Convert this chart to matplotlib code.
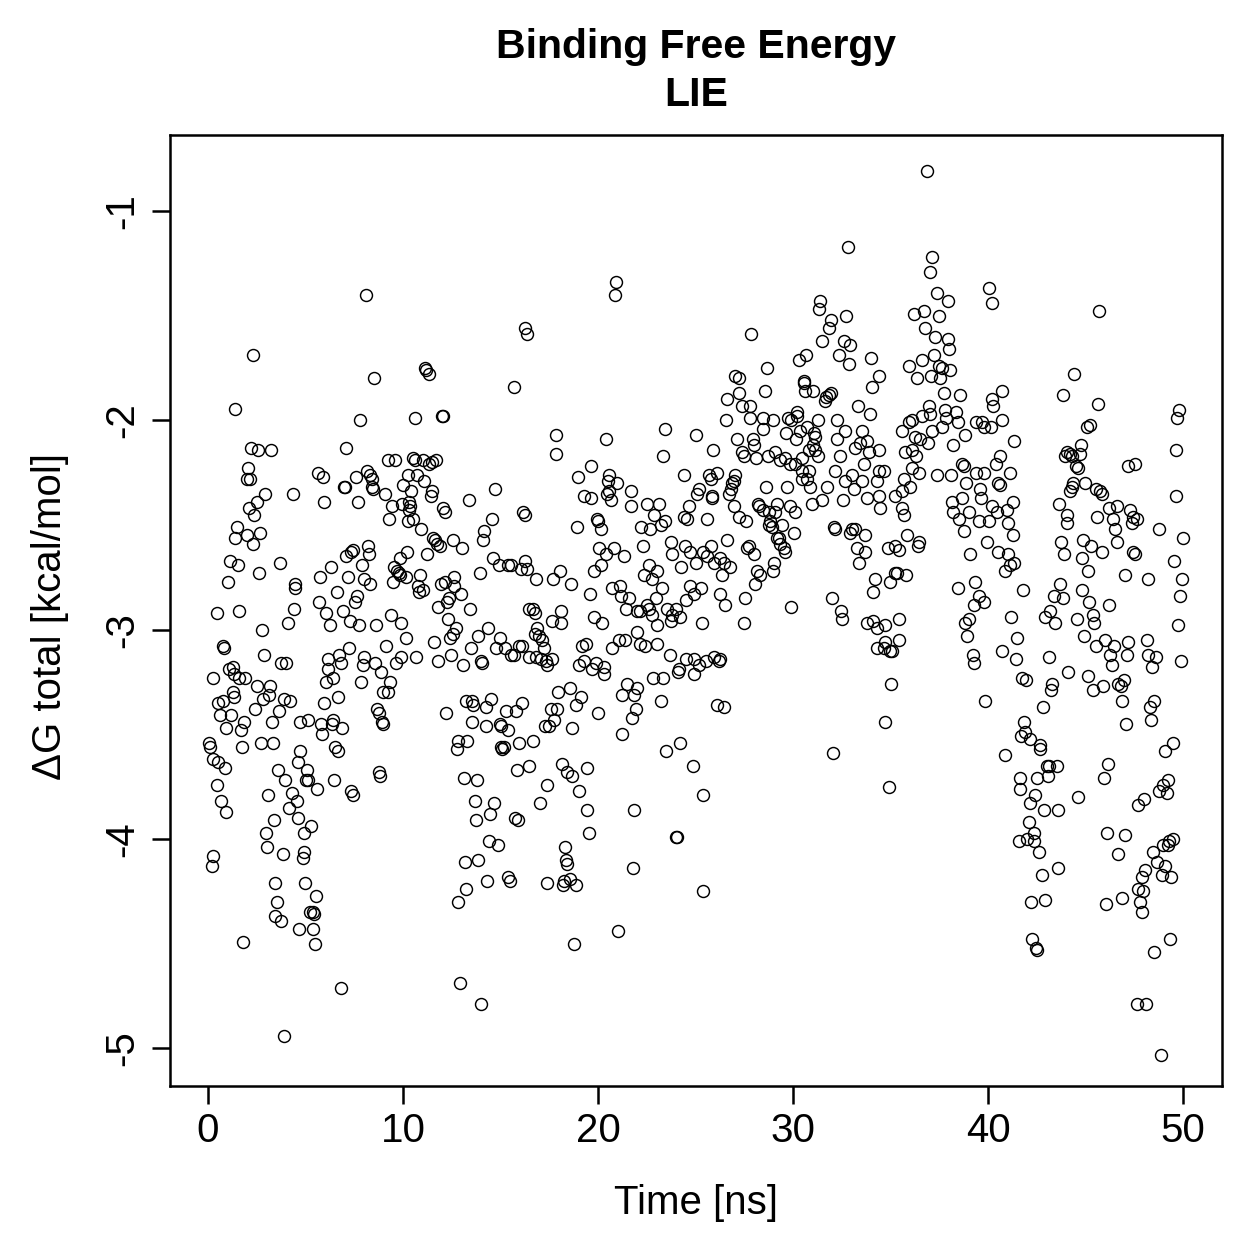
import matplotlib
matplotlib.use('Agg')
import matplotlib.pyplot as plt
import numpy as np

# (time [ns], dG total [kcal/mol]), grouped by time range
early = [
    (8.08,-1.40),(2.29,-1.69),(16.26,-1.56),(16.34,-1.59),(11.12,-1.75),(11.18,-1.76),(11.31,-1.78),
    (8.52,-1.80),(15.68,-1.84),(1.38,-1.945),(7.77,-2.00),(10.62,-1.99),(11.99,-1.98),(12.07,-1.98),
    (2.20,-2.13),(2.58,-2.14),(3.23,-2.14),(7.09,-2.13),(2.03,-2.23),(2.00,-2.28),(2.15,-2.28),
    (5.62,-2.25),(5.89,-2.27),(9.21,-2.19),(9.60,-2.19),(10.52,-2.18),(10.59,-2.19),(11.03,-2.19),
    (11.31,-2.21),(11.51,-2.20),(11.68,-2.19),(7.57,-2.27),(8.16,-2.24),(8.30,-2.26),(8.39,-2.28),
    (10.26,-2.26),(10.74,-2.26),(11.08,-2.29),(6.98,-2.32),(7.02,-2.32),(8.42,-2.32),(8.47,-2.33),
    (9.08,-2.35),(10.00,-2.31),(10.43,-2.34),(11.51,-2.34),(11.41,-2.36),(14.72,-2.33),(2.94,-2.35),
    (4.34,-2.35),(5.96,-2.39),(7.67,-2.39),(13.36,-2.38),(2.51,-2.39),(2.08,-2.42),(2.37,-2.45),
    (9.41,-2.41),(9.29,-2.47),(9.94,-2.40),(10.33,-2.39),(10.37,-2.41),(10.32,-2.43),(12.04,-2.42),
    (12.16,-2.44),(16.14,-2.44),(16.26,-2.45),(10.23,-2.48),(10.49,-2.47),(14.55,-2.47),(1.49,-2.51),
    (1.40,-2.56),(2.00,-2.55),(2.32,-2.59),(2.68,-2.54),(10.91,-2.52),(11.53,-2.56),(11.63,-2.57),
    (11.72,-2.59),(11.89,-2.60),(12.54,-2.57),(13.03,-2.61),(14.15,-2.53),(14.12,-2.57),(1.11,-2.67),
    (1.55,-2.69),(1.04,-2.77),(2.63,-2.73),(3.67,-2.68),(4.46,-2.78),(4.47,-2.80),(6.30,-2.70),
    (5.74,-2.75),(7.19,-2.75),(6.61,-2.82),(7.10,-2.65),(7.33,-2.63),(7.44,-2.62),(7.89,-2.69),
    (8.18,-2.60),(8.28,-2.64),(8.01,-2.76),(8.32,-2.78),(7.63,-2.84),(7.53,-2.87),(10.18,-2.63),
    (9.85,-2.66),(9.55,-2.70),(9.68,-2.72),(9.77,-2.73),(9.82,-2.74),(10.14,-2.75),(9.51,-2.77),
    (11.22,-2.64),(10.88,-2.74),(10.77,-2.79),(10.83,-2.82),(11.00,-2.81),(11.94,-2.78),(12.14,-2.77),
    (12.59,-2.75),(12.64,-2.79),(12.98,-2.83),(12.36,-2.85),(12.28,-2.87),(13.93,-2.73),(14.64,-2.66),
    (14.92,-2.69),(15.40,-2.69),(15.52,-2.69),(16.03,-2.71),(16.26,-2.67),(16.34,-2.71),(0.48,-2.92),
    (1.57,-2.91),(4.39,-2.90),(5.69,-2.87),(6.05,-2.92),(6.93,-2.91),(9.38,-2.93),(9.89,-2.97),
    (11.80,-2.89),(12.31,-2.95),(13.42,-2.90),(16.46,-2.90),(2.77,-3.00),(4.08,-2.97),(6.23,-2.98),
    (7.27,-2.96),(7.75,-2.98),(8.62,-2.98),(12.70,-2.99),(14.36,-2.99),
    (10.14,-3.04),(12.54,-3.02),(12.41,-3.04),(13.87,-3.03),(14.97,-3.04),(15.95,-3.08),(16.12,-3.08),
    (0.75,-3.08),(0.80,-3.09),(2.85,-3.12),(3.74,-3.16),(4.00,-3.16),(6.16,-3.14),(6.13,-3.19),
    (6.05,-3.25),(6.39,-3.23),(6.73,-3.12),(6.81,-3.16),(7.24,-3.09),(7.98,-3.13),(7.93,-3.17),
    (7.84,-3.25),(8.56,-3.16),(8.86,-3.20),(9.12,-3.08),(9.32,-3.25),(8.95,-3.30),(9.21,-3.30),
    (9.63,-3.16),(9.89,-3.13),(10.66,-3.13),(11.60,-3.06),(11.77,-3.15),(12.45,-3.12),(13.08,-3.17),
    (13.47,-3.09),(14.01,-3.15),(14.06,-3.16),(14.75,-3.09),(15.23,-3.09),(15.52,-3.12),(15.69,-3.12),
    (16.46,-3.13),(0.24,-3.23),(1.09,-3.19),(1.26,-3.18),(1.35,-3.21),(1.60,-3.23),(1.90,-3.23),
    (2.51,-3.27),(3.18,-3.27),(3.14,-3.31),(2.80,-3.33),(2.41,-3.38),(0.50,-3.35),(0.75,-3.34),
    (1.26,-3.30),(1.35,-3.32),(0.63,-3.41),(1.18,-3.41),(0.92,-3.47),(1.83,-3.44),(1.69,-3.48),
    (1.72,-3.56),(0.03,-3.54),(0.12,-3.56),(0.27,-3.62),(0.50,-3.63),(0.89,-3.66),(0.44,-3.74),
    (0.67,-3.82),(0.92,-3.87),(0.24,-4.08),(0.19,-4.13),(1.78,-4.49),(3.91,-3.33),(4.20,-3.34),
    (3.62,-3.39),(3.28,-3.44),(2.72,-3.54),(3.31,-3.54),(4.73,-3.44),(5.11,-3.43),(5.79,-3.45),
    (5.82,-3.50),(6.42,-3.43),(6.35,-3.45),(6.86,-3.47),(5.93,-3.35),(6.64,-3.32),(6.52,-3.56),
    (6.69,-3.58),(8.69,-3.38),(8.77,-3.40),(8.91,-3.44),(8.98,-3.45),(4.73,-3.58),(4.63,-3.63),
    (5.07,-3.67),(5.11,-3.72),(5.02,-3.72),(5.57,-3.76),(3.57,-3.67),(3.94,-3.72),(3.06,-3.79),
    (4.29,-3.78),(4.54,-3.82),(4.17,-3.85),(4.60,-3.90),(3.37,-3.91),(2.99,-3.97),(6.47,-3.72),
    (7.33,-3.77),(7.46,-3.79),(8.78,-3.68),(8.83,-3.70),(5.28,-3.94),(4.90,-3.97),(3.02,-4.04),
    (3.83,-4.07),(4.93,-4.06),(4.85,-4.09),(3.43,-4.21),(3.53,-4.30),(3.45,-4.37),(3.74,-4.39),
    (4.97,-4.21),(5.53,-4.27),(5.24,-4.35),(5.36,-4.35),(5.41,-4.36),(4.68,-4.43),(5.40,-4.43),
    (5.48,-4.50),(3.88,-4.94),(6.81,-4.71),(12.21,-3.40),(13.22,-3.34),(13.52,-3.34),(13.61,-3.36),
    (14.24,-3.37),(14.50,-3.33),(16.12,-3.35),(15.78,-3.39),(15.27,-3.39),(13.52,-3.44),(14.27,-3.46),
    (14.96,-3.45),(15.01,-3.46),(15.40,-3.48),(12.82,-3.53),(12.76,-3.57),(13.30,-3.53),(15.01,-3.56),
    (15.10,-3.57),(15.18,-3.56),(15.95,-3.54),(15.87,-3.67),(16.45,-3.65),(13.13,-3.71),(13.78,-3.72),
    (13.68,-3.82),(14.67,-3.83),(14.46,-3.88),(13.73,-3.91),(15.75,-3.90),(15.91,-3.91),(14.41,-4.01),
    (14.89,-4.03),(13.17,-4.11),(13.82,-4.10),(15.40,-4.18),(15.47,-4.20),(14.33,-4.20),(13.22,-4.24),
    (12.82,-4.30),(12.91,-4.69),(13.99,-4.79),
]

middle = [
    (32.80,-1.17),(20.90,-1.34),(20.87,-1.40),(31.40,-1.43),(31.35,-1.47),(31.95,-1.52),(32.74,-1.50),
    (31.83,-1.56),(31.49,-1.62),(32.60,-1.62),(32.94,-1.64),(32.38,-1.69),(32.85,-1.73),(33.99,-1.70),
    (30.29,-1.71),(30.67,-1.69),(27.85,-1.59),(28.67,-1.75),(27.05,-1.79),(27.22,-1.80),(28.55,-1.86),
    (26.62,-1.90),(27.22,-1.87),(27.36,-1.93),(27.78,-1.93),(30.55,-1.81),(30.58,-1.82),(30.63,-1.86),
    (31.01,-1.86),(31.71,-1.89),(31.63,-1.91),(31.95,-1.87),(31.83,-1.88),(33.31,-1.93),(34.05,-1.84),
    (34.39,-1.79),(33.93,-1.97),(26.56,-2.00),(27.78,-1.99),(28.47,-1.99),(28.45,-2.04),(28.98,-2.00),
    (29.75,-1.99),(30.21,-1.96),(30.21,-1.98),(29.90,-2.00),(29.64,-2.06),(30.17,-2.09),(30.38,-2.05),
    (30.72,-2.03),(31.09,-2.06),(31.15,-2.08),(31.29,-2.00),(32.26,-2.00),(32.68,-2.05),(33.54,-2.05),
    (33.20,-2.13),(33.42,-2.11),(33.80,-2.10),(33.88,-2.15),(34.39,-2.14),(27.13,-2.09),(27.94,-2.09),
    (27.99,-2.12),(27.39,-2.15),(27.48,-2.17),(28.12,-2.18),(28.70,-2.17),(25.05,-2.07),(25.91,-2.14),
    (23.41,-2.04),(23.35,-2.17),(17.83,-2.07),(17.83,-2.16),(20.43,-2.09),(29.08,-2.15),(29.35,-2.19),
    (29.61,-2.18),(29.87,-2.21),(30.09,-2.21),(30.46,-2.18),(30.80,-2.14),(31.02,-2.12),(31.15,-2.14),
    (31.29,-2.17),(32.39,-2.17),(32.26,-2.09),(33.62,-2.21),(34.39,-2.24),(30.46,-2.24),(30.80,-2.24),
    (30.72,-2.28),(30.46,-2.28),(30.89,-2.32),(31.75,-2.32),(32.17,-2.24),(32.68,-2.29),(33.03,-2.26),
    (33.54,-2.29),(33.11,-2.33),(32.57,-2.38),(33.80,-2.37),(34.30,-2.29),(34.39,-2.36),(31.49,-2.38),
    (30.98,-2.40),(29.70,-2.32),(28.59,-2.32),(28.19,-2.40),(28.28,-2.41),(28.45,-2.43),(28.76,-2.44),
    (29.10,-2.44),(29.18,-2.40),(29.87,-2.41),(30.09,-2.44),(28.84,-2.48),(28.76,-2.50),(28.93,-2.51),
    (29.44,-2.50),(29.18,-2.56),(29.27,-2.56),(29.35,-2.59),(29.52,-2.61),(29.61,-2.63),(30.04,-2.54),
    (29.01,-2.68),(28.96,-2.72),(28.33,-2.74),(28.07,-2.78),(28.16,-2.72),(32.09,-2.51),(32.17,-2.52),
    (32.94,-2.54),(33.03,-2.52),(33.20,-2.52),(33.67,-2.55),(33.28,-2.61),(33.71,-2.63),(33.37,-2.68),
    (34.20,-2.76),(34.11,-2.82),(32.00,-2.85),(32.45,-2.91),(32.50,-2.95),(33.80,-2.97),(34.11,-2.96),
    (29.90,-2.89),(27.51,-2.97),(27.56,-2.85),(25.34,-2.97),(18.97,-2.27),(19.62,-2.22),(19.28,-2.36),
    (19.62,-2.37),(20.56,-2.26),(20.51,-2.29),(20.99,-2.30),(20.56,-2.34),(20.44,-2.35),(20.65,-2.38),
    (21.67,-2.34),(21.67,-2.41),(19.93,-2.47),(20.00,-2.48),(20.17,-2.52),(18.90,-2.51),(22.53,-2.40),
    (23.12,-2.40),(22.87,-2.45),(22.69,-2.52),(23.21,-2.50),(23.46,-2.48),(22.22,-2.51),(24.40,-2.26),
    (25.68,-2.26),(25.77,-2.28),(26.11,-2.25),(25.19,-2.33),(25.10,-2.35),(25.82,-2.36),(25.86,-2.37),
    (27.05,-2.26),(26.97,-2.29),(26.88,-2.30),(26.80,-2.33),(26.71,-2.35),(24.66,-2.41),(24.40,-2.46),
    (24.57,-2.47),(25.59,-2.47),(26.97,-2.41),(27.22,-2.46),(27.61,-2.48),(26.62,-2.57),(27.73,-2.60),
    (27.99,-2.64),(27.65,-2.61),(23.72,-2.58),(23.80,-2.64),(24.45,-2.60),(24.74,-2.63),(25.00,-2.68),
    (24.28,-2.70),(25.39,-2.63),(25.77,-2.60),(25.59,-2.65),(25.94,-2.68),(26.28,-2.66),(26.45,-2.68),
    (26.76,-2.70),(26.37,-2.74),(22.32,-2.60),(22.61,-2.69),(23.04,-2.72),(22.35,-2.74),(22.78,-2.76),
    (23.29,-2.80),(22.95,-2.85),(22.53,-2.88),(22.14,-2.91),(22.78,-2.93),(23.04,-2.98),(20.82,-2.61),
    (21.33,-2.65),(20.39,-2.64),(20.05,-2.61),(20.13,-2.69),(19.79,-2.72),(18.05,-2.72),(17.71,-2.76),
    (18.63,-2.78),(16.80,-2.76),(19.58,-2.83),(20.73,-2.80),(21.12,-2.79),(21.16,-2.84),(21.58,-2.85),
    (21.41,-2.90),(22.01,-2.91),(22.61,-2.90),(23.55,-2.90),(23.80,-2.93),(23.98,-2.90),(23.72,-2.96),
    (24.23,-2.94),(24.52,-2.86),(24.74,-2.79),(24.91,-2.83),(25.26,-2.80),(26.24,-2.83),(26.50,-2.88),
    (16.67,-2.90),(16.75,-2.92),(18.11,-2.91),(17.66,-2.96),(18.08,-2.97),(19.79,-2.94),(20.22,-2.97),
    (16.89,-2.99),
    (16.75,-3.02),(16.97,-3.03),(17.15,-3.05),(17.23,-3.09),(16.80,-3.13),(17.06,-3.14),(17.32,-3.15),
    (17.40,-3.17),(17.66,-3.14),(19.19,-3.08),(19.37,-3.07),(20.73,-3.09),(21.07,-3.05),(21.36,-3.05),
    (22.01,-3.01),(22.14,-3.07),(22.39,-3.08),(23.00,-3.07),(23.67,-3.12),(24.52,-3.14),(24.91,-3.14),
    (25.17,-3.17),(24.91,-3.21),(25.56,-3.15),(25.94,-3.13),(26.20,-3.15),(26.28,-3.14),(24.15,-3.19),
    (24.09,-3.20),(22.83,-3.23),(23.35,-3.23),(19.02,-3.17),(19.28,-3.15),(19.71,-3.19),(19.88,-3.16),
    (20.31,-3.18),(20.31,-3.21),(18.56,-3.28),(17.95,-3.30),(19.11,-3.32),(18.85,-3.36),(17.57,-3.38),
    (17.92,-3.38),(17.74,-3.43),(17.26,-3.46),(17.49,-3.46),(18.65,-3.47),(20.00,-3.40),(21.24,-3.31),
    (21.50,-3.26),(21.84,-3.31),(22.01,-3.28),(21.93,-3.38),(21.72,-3.42),(21.21,-3.50),(23.21,-3.34),
    (26.11,-3.36),(26.45,-3.37),(16.68,-3.53),(18.17,-3.64),(18.43,-3.68),(18.68,-3.70),(19.42,-3.66),
    (17.37,-3.74),(17.03,-3.83),(19.02,-3.77),(19.45,-3.86),(19.54,-3.97),(23.51,-3.58),(24.23,-3.54),
    (24.86,-3.65),(25.39,-3.79),(21.87,-3.86),(23.98,-3.99),(24.06,-3.99),(18.31,-4.04),(18.38,-4.10),
    (18.43,-4.12),(18.26,-4.20),(18.56,-4.19),(18.85,-4.22),(17.40,-4.21),(18.20,-4.22),(21.79,-4.14),
    (25.36,-4.25),(21.02,-4.44),(18.77,-4.50),(32.05,-3.59),
]

late = [
    (36.87,-0.81),(37.12,-1.22),(37.00,-1.29),(37.38,-1.39),(37.94,-1.43),(40.06,-1.37),(40.22,-1.44),
    (45.70,-1.48),(36.18,-1.49),(36.70,-1.48),(37.47,-1.50),(36.78,-1.56),(37.30,-1.60),(37.93,-1.61),
    (38.01,-1.66),(36.63,-1.71),(37.24,-1.69),(35.96,-1.74),(36.36,-1.80),(37.09,-1.79),(37.55,-1.80),
    (37.64,-1.75),(38.06,-1.76),(37.51,-1.74),(37.76,-1.87),(38.54,-1.88),(36.95,-1.93),(37.81,-1.95),
    (38.37,-1.96),(37.04,-1.97),(37.86,-1.99),(38.44,-2.01),(37.64,-2.03),(37.12,-2.05),(36.60,-1.98),
    (36.10,-2.00),(35.93,-2.01),(35.59,-2.05),(36.53,-2.09),(36.27,-2.08),(36.90,-2.11),(35.76,-2.15),
    (36.10,-2.14),(36.30,-2.17),(36.10,-2.23),(35.67,-2.28),(36.01,-2.32),(36.44,-2.25),(34.65,-2.24),
    (34.48,-2.42),(35.24,-2.36),(35.59,-2.34),(35.59,-2.42),(35.67,-2.45),(37.38,-2.26),(38.11,-2.26),
    (38.23,-2.12),(38.83,-2.07),(38.66,-2.21),(38.75,-2.22),(39.37,-2.01),(39.71,-2.01),(39.80,-2.03),
    (40.14,-2.03),(40.28,-1.93),(40.20,-1.90),(40.71,-1.86),(40.74,-2.00),(41.35,-2.10),(40.62,-2.17),
    (40.42,-2.21),(41.14,-2.25),(40.49,-2.30),(40.62,-2.31),(39.60,-2.33),(39.64,-2.37),(40.19,-2.41),
    (40.45,-2.44),(40.97,-2.43),(41.28,-2.39),(41.00,-2.49),(41.28,-2.55),(39.94,-2.58),(40.50,-2.63),
    (41.05,-2.64),(41.34,-2.68),(41.14,-2.69),(40.88,-2.72),(38.88,-2.30),(39.40,-2.25),(39.81,-2.25),
    (38.66,-2.37),(38.15,-2.39),(38.20,-2.44),(38.49,-2.47),(39.00,-2.44),(39.52,-2.48),(40.03,-2.48),
    (38.75,-2.53),(39.09,-2.64),(38.44,-2.80),(39.31,-2.77),(39.52,-2.84),(39.27,-2.88),(39.77,-2.87),
    (39.00,-2.95),(38.83,-2.97),(41.19,-2.94),(41.78,-2.81),(34.85,-2.61),(35.24,-2.60),(35.41,-2.62),
    (35.84,-2.55),(36.48,-2.58),(36.43,-2.60),(34.99,-2.77),(35.24,-2.73),(35.32,-2.73),(35.79,-2.74),
    (34.73,-2.98),(35.46,-2.95),(44.42,-1.78),(43.84,-1.88),(45.63,-1.92),(49.80,-1.95),(49.71,-1.99),
    (45.07,-2.03),(45.24,-2.02),(49.64,-2.14),(44.04,-2.15),(44.21,-2.16),(44.30,-2.17),(44.76,-2.12),
    (44.72,-2.16),(43.94,-2.17),(44.52,-2.22),(44.64,-2.23),(47.20,-2.22),(47.54,-2.21),(49.64,-2.36),
    (44.38,-2.30),(44.30,-2.32),(44.18,-2.34),(44.98,-2.30),(45.54,-2.33),(45.75,-2.34),(45.83,-2.35),
    (43.66,-2.40),(44.04,-2.45),(44.07,-2.49),(45.57,-2.46),(46.23,-2.42),(46.61,-2.41),(46.43,-2.47),
    (46.52,-2.52),(46.61,-2.58),(47.29,-2.43),(47.46,-2.46),(47.63,-2.47),(47.38,-2.49),(48.79,-2.52),
    (49.98,-2.56),(43.75,-2.58),(43.90,-2.64),(44.89,-2.57),(45.29,-2.60),(45.87,-2.63),(44.81,-2.66),
    (45.12,-2.72),(47.46,-2.63),(47.54,-2.64),(49.54,-2.67),(47.00,-2.74),(48.23,-2.76),(49.97,-2.76),
    (49.85,-2.84),(43.70,-2.78),(43.36,-2.84),(43.84,-2.85),(43.18,-2.91),(42.93,-2.94),(43.44,-2.97),
    (44.83,-2.81),(45.18,-2.87),(46.21,-2.88),(45.37,-2.93),(45.44,-2.97),(44.56,-2.95),(49.75,-2.98),
    (34.73,-3.06),(35.41,-3.05),(35.07,-3.10),(34.32,-3.09),(34.65,-3.09),(34.96,-3.10),(34.32,-2.99),
    (35.04,-3.26),(34.70,-3.44),(34.90,-3.75),(39.86,-3.34),(38.92,-3.03),(39.21,-3.12),(39.26,-3.16),
    (40.70,-3.10),(41.47,-3.04),(41.44,-3.14),(41.73,-3.23),(41.95,-3.24),(43.15,-3.13),(44.09,-3.20),
    (43.27,-3.26),(43.24,-3.29),(42.80,-3.37),(44.94,-3.03),(45.54,-3.08),(46.00,-3.05),(46.26,-3.12),
    (46.46,-3.08),(46.35,-3.17),(47.16,-3.06),(47.15,-3.12),(48.14,-3.05),(48.22,-3.12),(48.62,-3.13),
    (48.40,-3.18),(49.90,-3.15),(45.15,-3.22),(45.37,-3.29),(45.92,-3.27),(46.69,-3.26),(46.95,-3.24),
    (46.81,-3.27),(46.86,-3.34),(47.08,-3.45),(48.52,-3.34),(48.32,-3.37),(48.37,-3.43),(49.50,-3.54),
    (49.08,-3.58),(41.86,-3.44),(41.91,-3.49),(41.68,-3.51),(42.13,-3.52),(42.67,-3.55),(42.67,-3.57),
    (40.85,-3.60),(43.02,-3.65),(43.14,-3.65),(43.53,-3.65),(43.07,-3.70),(42.53,-3.71),(41.65,-3.71),
    (41.62,-3.76),(42.42,-3.79),(42.16,-3.83),(42.87,-3.86),(43.58,-3.86),(44.60,-3.80),(46.13,-3.64),
    (45.94,-3.71),(49.25,-3.72),(48.99,-3.74),(48.79,-3.77),(49.16,-3.78),(48.00,-3.81),(47.71,-3.84),
    (42.08,-3.92),(42.34,-3.97),(41.57,-4.01),(42.00,-4.00),(42.37,-4.01),(42.59,-4.06),(43.61,-4.14),
    (42.76,-4.17),(42.21,-4.30),(42.90,-4.29),(46.09,-3.97),(47.03,-3.98),(46.69,-4.07),(48.99,-4.03),
    (49.21,-4.03),(49.30,-4.01),(49.48,-4.00),(48.48,-4.06),(48.65,-4.11),(49.08,-4.13),(48.90,-4.17),
    (49.41,-4.18),(48.05,-4.15),(47.88,-4.18),(47.71,-4.24),(47.96,-4.25),(47.79,-4.30),(47.88,-4.35),
    (46.89,-4.28),(46.06,-4.31),(42.24,-4.48),(42.45,-4.52),(42.50,-4.53),(49.33,-4.48),(48.53,-4.54),
    (47.63,-4.79),(48.10,-4.79),(48.86,-5.03),
]

x_ticks = [0, 10, 20, 30, 40, 50]
y_ticks = [-5, -4, -3, -2, -1]

time_ns = np.array([p[0] for p in early + middle + late])
dg_total = np.array([p[1] for p in early + middle + late])

plt.rcParams['font.family'] = ['Liberation Sans', 'DejaVu Sans']

W = 1259
fig = plt.figure(figsize=(W / 100, W / 100), dpi=100)
ax = fig.add_axes([170 / W, 1 - 1086 / W, (1222 - 170) / W, (1086 - 135) / W])

ax.plot(time_ns, dg_total, ls='none', marker='o', ms=8.6, mfc='none', mec='black', mew=1.05)

ax.set_xlim(-1.95, 52.0)
ax.set_ylim(-5.18, -0.637)
ax.set_xticks(x_ticks)
ax.set_yticks(y_ticks)
ax.set_xticklabels([str(v) for v in x_ticks])
ax.set_yticklabels([str(v) for v in y_ticks], rotation=90, va='center')
ax.tick_params(direction='out', length=13, width=1.8, labelsize=29, pad=6)
ax.tick_params(axis='y', pad=8)
for s in ax.spines.values():
    s.set_linewidth(1.8)

fig.text(696 / W, 1 - 47 / W, 'Binding Free Energy', ha='center', va='center',
         fontsize=29.5, fontweight='bold')
fig.text(696 / W, 1 - 95 / W, 'LIE', ha='center', va='center',
         fontsize=29.5, fontweight='bold')
fig.text(696 / W, 1 - 1203 / W, 'Time [ns]', ha='center', va='center', fontsize=29)
fig.text(50 / W, 1 - 617 / W, 'ΔG total [kcal/mol]', ha='center', va='center',
         fontsize=29, rotation=90)

fig.savefig('out.png', dpi=100)
